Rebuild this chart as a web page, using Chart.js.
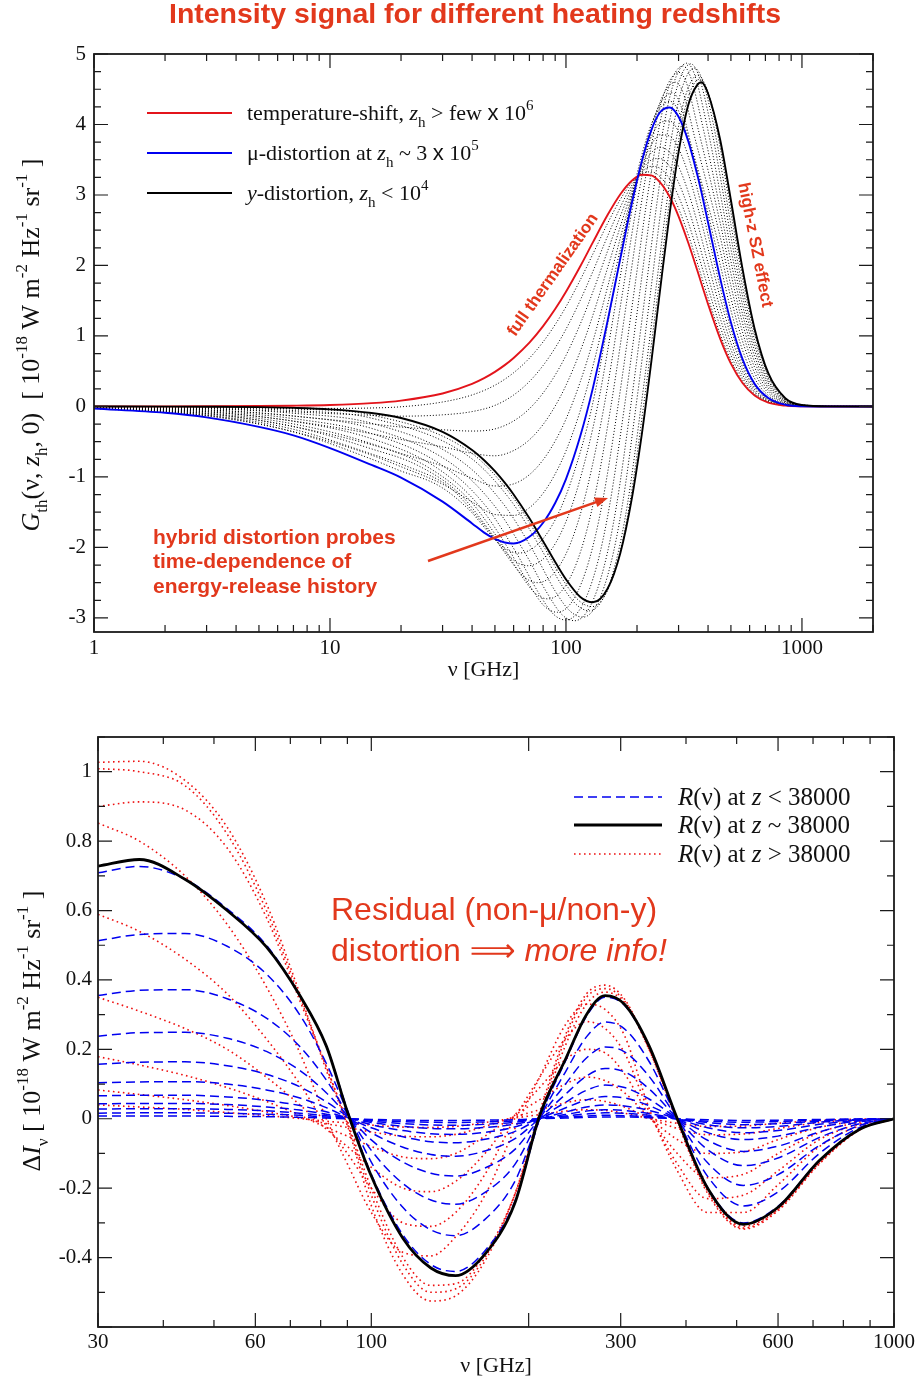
<!DOCTYPE html>
<html lang="en">
<head>
<meta charset="UTF-8">
<title>Intensity signal for different heating redshifts</title>
<script src="https://cdn.jsdelivr.net/npm/chart.js"></script>
<style>
  body { margin: 0; background: #fff; }
  .panel { position: absolute; left: 0; width: 920px; }
</style>
</head>
<body>
<div class="panel" style="top:0;height:690px"><canvas id="topChart" width="920" height="690"></canvas></div>
<div class="panel" style="top:690px;height:694px"><canvas id="bottomChart" width="920" height="694"></canvas></div>
<script>
// ---------- top panel: G_th(nu, z_h, 0) ----------
const topNu = [1, 2, 3, 5, 7, 10, 15, 20, 30, 40, 45, 50, 55, 60, 70, 80, 90, 100, 115, 130, 150, 170, 190, 210, 230, 250, 275, 300, 330, 360, 375, 400, 450, 500, 560, 630, 720, 850, 1000, 1300, 2000];
const tempShift = [0.0002, 0.0008, 0.0019, 0.0052, 0.0103, 0.0209, 0.0468, 0.0829, 0.184, 0.321, 0.402, 0.491, 0.586, 0.688, 0.905, 1.139, 1.381, 1.627, 1.989, 2.327, 2.715, 3.010, 3.202, 3.288, 3.277, 3.182, 2.974, 2.697, 2.318, 1.931, 1.744, 1.452, 0.963, 0.608, 0.333, 0.155, 0.054, 0.011, 0.0015, 0, 0];
const muDist = [-0.03, -0.09, -0.155, -0.29, -0.41, -0.59, -0.83, -1.01, -1.35, -1.66, -1.79, -1.88, -1.93, -1.945, -1.85, -1.65, -1.37, -1.03, -0.42, 0.26, 1.21, 2.10, 2.88, 3.49, 3.92, 4.17, 4.24, 4.11, 3.76, 3.29, 3.04, 2.61, 1.82, 1.19, 0.67, 0.32, 0.12, 0.024, 0.003, 0, 0];
const yDist = [0, -0.002, -0.004, -0.010, -0.021, -0.042, -0.093, -0.164, -0.360, -0.617, -0.763, -0.919, -1.082, -1.249, -1.587, -1.913, -2.207, -2.454, -2.703, -2.779, -2.587, -2.078, -1.311, -0.374, 0.637, 1.630, 2.737, 3.607, 4.281, 4.562, 4.60, 4.440, 3.787, 2.925, 1.951, 1.103, 0.471, 0.117, 0.020, 0.0004, 0];

// dotted curves between y and mu (hybrid)
const hybridNu = [
  [1, 3, 7, 15, 39.7, 59.5, 79.4, 99.2, 114.1, 129, 148.4, 167.7, 187.0, 213, 245.9, 270.9, 295.9, 325.9, 368, 395.6, 445.2, 500, 560, 630, 720, 850, 1000, 2000],
  [1, 3, 7, 15, 38.8, 58.2, 77.5, 96.9, 111.5, 126, 144.9, 163.8, 182.6, 208, 240.6, 265.3, 290.2, 320.1, 362, 389.2, 437.9, 500, 560, 630, 720, 850, 1000, 2000],
  [1, 3, 7, 15, 36.3, 54.5, 72.6, 90.8, 104.4, 118, 136.4, 154.7, 173.1, 198, 230.0, 254.3, 278.8, 308.4, 350, 376.3, 423.4, 500, 560, 630, 720, 850, 1000, 2000],
  [1, 3, 7, 15, 33.5, 50.3, 67.1, 83.9, 96.4, 109, 126.9, 145.0, 163.2, 188, 219.3, 243.3, 267.4, 296.7, 338, 363.4, 408.9, 500, 560, 630, 720, 850, 1000, 2000],
  [1, 3, 7, 15, 30.8, 46.2, 61.5, 76.9, 88.5, 100, 117.3, 134.9, 152.6, 177, 207.6, 231.2, 255.0, 283.9, 325, 349.5, 393.2, 500, 560, 630, 720, 850, 1000, 2000],
  [1, 3, 7, 15, 28.3, 42.5, 56.6, 70.8, 81.4, 92, 108.5, 125.3, 142.4, 166, 196.1, 219.4, 243.0, 271.9, 313, 336.6, 378.6, 450, 500, 560, 630, 720, 850, 1000, 2000],
  [1, 3, 7, 15, 25.8, 38.8, 51.7, 64.6, 74.3, 84, 99.7, 115.8, 132.2, 155, 184.5, 207.5, 231.0, 259.7, 301, 323.6, 364.1, 450, 500, 560, 630, 720, 850, 1000, 2000],
  [1, 3, 7, 15, 23.4, 35.1, 46.8, 58.5, 67.2, 76, 91.0, 106.6, 122.6, 145, 174.1, 196.9, 220.4, 249.3, 291, 312.9, 352.0, 450, 500, 560, 630, 720, 850, 1000, 2000],
  [1, 3, 7, 15, 21.2, 31.8, 42.5, 53.1, 61.0, 69, 83.4, 98.4, 114.0, 136, 164.7, 187.4, 210.8, 239.8, 282, 303.2, 341.1, 450, 500, 560, 630, 720, 850, 1000, 2000],
  [1, 3, 7, 15, 19.4, 29.1, 38.8, 48.5, 55.7, 63, 77.0, 91.7, 107.1, 129, 157.5, 180.2, 203.8, 233.1, 276, 296.8, 333.9, 450, 500, 560, 630, 720, 850, 1000, 2000]
];
const hybridG = [
  [-0.001, -0.010, -0.036, -0.122, -0.659, -1.287, -1.953, -2.508, -2.762, -2.84, -2.644, -2.124, -1.340, 0, 1.651, 2.773, 3.654, 4.337, 4.64, 4.498, 3.837, 2.856, 1.900, 1.072, 0.457, 0.113, 0.019, 0],
  [-0.003, -0.019, -0.059, -0.166, -0.712, -1.329, -1.990, -2.56, -2.821, -2.90, -2.700, -2.168, -1.368, 0, 1.673, 2.809, 3.702, 4.393, 4.70, 4.556, 3.886, 2.752, 1.823, 1.025, 0.436, 0.108, 0.018, 0],
  [-0.006, -0.033, -0.097, -0.238, -0.785, -1.390, -2.048, -2.64, -2.908, -2.99, -2.783, -2.236, -1.411, 0, 1.708, 2.868, 3.780, 4.487, 4.80, 4.653, 3.969, 2.578, 1.695, 0.946, 0.401, 0.098, 0.017, 0],
  [-0.009, -0.048, -0.135, -0.311, -0.835, -1.429, -2.080, -2.667, -2.957, -3.04, -2.830, -2.273, -1.434, 0, 1.730, 2.904, 3.827, 4.543, 4.86, 4.711, 4.018, 2.405, 1.567, 0.868, 0.366, 0.089, 0.015, 0],
  [-0.012, -0.062, -0.173, -0.384, -0.866, -1.432, -2.073, -2.656, -2.947, -3.03, -2.821, -2.266, -1.429, 0, 1.733, 2.910, 3.835, 4.552, 4.87, 4.721, 4.027, 2.231, 1.439, 0.790, 0.331, 0.080, 0.013, 0],
  [-0.015, -0.077, -0.211, -0.457, -0.869, -1.394, -2.002, -2.560, -2.840, -2.92, -2.718, -2.183, -1.377, 0, 1.719, 2.886, 3.804, 4.515, 4.83, 4.682, 3.994, 2.804, 2.058, 1.311, 0.712, 0.296, 0.071, 0.012, 0],
  [-0.018, -0.092, -0.248, -0.529, -0.855, -1.319, -1.882, -2.396, -2.655, -2.73, -2.541, -2.041, -1.288, 0, 1.687, 2.833, 3.733, 4.430, 4.74, 4.595, 3.919, 2.607, 1.884, 1.182, 0.633, 0.260, 0.061, 0.010, 0],
  [-0.021, -0.106, -0.286, -0.602, -0.832, -1.226, -1.735, -2.199, -2.432, -2.50, -2.327, -1.869, -1.179, 0, 1.637, 2.749, 3.623, 4.300, 4.60, 4.460, 3.804, 2.410, 1.711, 1.054, 0.555, 0.225, 0.052, 0.008, 0],
  [-0.024, -0.121, -0.324, -0.675, -0.85, -1.136, -1.582, -1.992, -2.198, -2.26, -2.104, -1.690, -1.066, 0, 1.584, 2.659, 3.505, 4.159, 4.45, 4.314, 3.679, 2.213, 1.537, 0.926, 0.477, 0.190, 0.043, 0.006, 0],
  [-0.027, -0.135, -0.362, -0.747, -0.90, -1.13, -1.464, -1.838, -2.023, -2.08, -1.936, -1.555, -0.981, 0, 1.541, 2.588, 3.410, 4.047, 4.33, 4.22, 3.75, 2.017, 1.364, 0.798, 0.398, 0.155, 0.033, 0.005, 0]
];

// dotted curves between mu and temperature shift (thermalization)
const mixNu = [1, 3, 5, 10, 15, 20, 30, 40, 50, 60, 70, 80, 90, 100, 115, 130, 150, 170, 190, 210, 230, 250, 275, 300, 330, 360, 400, 450, 500, 560, 630, 720, 850, 1000, 2000];
const mixG = [
  [-0.026, -0.127, -0.246, -0.498, -0.690, -0.855, -1.103, -1.354, -1.533, -1.546, -1.437, -1.232, -0.957, -0.631, -0.059, 0.570, 1.436, 2.237, 2.928, 3.460, 3.824, 4.022, 4.050, 3.898, 3.544, 3.086, 2.436, 1.691, 1.103, 0.619, 0.295, 0.110, 0.022, 0.003, 0],
  [-0.020, -0.101, -0.196, -0.395, -0.543, -0.667, -0.846, -1.019, -1.128, -1.099, -0.968, -0.758, -0.490, -0.180, 0.351, 0.921, 1.692, 2.391, 2.983, 3.425, 3.714, 3.854, 3.835, 3.658, 3.299, 2.855, 2.239, 1.546, 1.004, 0.562, 0.267, 0.099, 0.020, 0.0025, 0],
  [-0.015, -0.074, -0.143, -0.285, -0.387, -0.469, -0.573, -0.665, -0.700, -0.626, -0.473, -0.256, 0.006, 0.299, 0.785, 1.294, 1.963, 2.555, 3.041, 3.389, 3.599, 3.676, 3.607, 3.404, 3.039, 2.611, 2.031, 1.392, 0.899, 0.502, 0.238, 0.087, 0.018, 0.002, 0],
  [-0.010, -0.050, -0.095, -0.187, -0.248, -0.292, -0.331, -0.349, -0.319, -0.206, -0.032, 0.191, 0.446, 0.724, 1.170, 1.624, 2.203, 2.701, 3.093, 3.357, 3.496, 3.518, 3.404, 3.177, 2.808, 2.393, 1.846, 1.254, 0.806, 0.448, 0.211, 0.076, 0.015, 0.002, 0],
  [-0.006, -0.028, -0.054, -0.101, -0.126, -0.138, -0.119, -0.073, 0.015, 0.162, 0.354, 0.581, 0.831, 1.096, 1.507, 1.914, 2.414, 2.828, 3.138, 3.328, 3.406, 3.380, 3.227, 2.980, 2.606, 2.203, 1.684, 1.134, 0.724, 0.400, 0.188, 0.067, 0.014, 0.0018, 0],
  [-0.002, -0.010, -0.019, -0.028, -0.022, -0.005, 0.063, 0.163, 0.301, 0.478, 0.685, 0.916, 1.161, 1.414, 1.796, 2.162, 2.595, 2.937, 3.176, 3.304, 3.328, 3.261, 3.075, 2.810, 2.433, 2.040, 1.545, 1.032, 0.655, 0.360, 0.168, 0.059, 0.012, 0.0016, 0]
];

const topXLabels = [1, 10, 100, 1000];
const topYLabels = [-3, -2, -1, 0, 1, 2, 3, 4, 5];

// ---------- bottom panel: residual distortion R(nu) ----------
const botNu = [30, 36, 44, 53, 63, 73, 82, 90, 100, 115, 130, 145, 165, 188, 210, 235, 258, 280, 305, 340, 385, 440, 515, 600, 720, 860, 1000];
const residMid = [0.728, 0.747, 0.69, 0.60, 0.495, 0.355, 0.21, 0.02, -0.165, -0.345, -0.43, -0.452, -0.39, -0.245, 0.01, 0.17, 0.30, 0.355, 0.33, 0.21, 0.0, -0.20, -0.304, -0.255, -0.12, -0.03, 0];
const residLow = [
  [0.709, 0.727, 0.69, 0.605, 0.50, 0.355, 0.21, 0.025, -0.16, -0.335, -0.42, -0.44, -0.38, -0.24, 0.0, 0.165, 0.295, 0.35, 0.327, 0.208, 0.0, -0.198, -0.300, -0.252, -0.12, -0.03, 0],
  [0.513, 0.531, 0.534, 0.497, 0.417, 0.299, 0.160, 0.021, -0.125, -0.256, -0.320, -0.337, -0.290, -0.182, 0, 0.134, 0.236, 0.279, 0.259, 0.165, 0, -0.166, -0.251, -0.211, -0.100, -0.025, 0],
  [0.355, 0.370, 0.372, 0.346, 0.290, 0.208, 0.112, 0.015, -0.091, -0.187, -0.234, -0.246, -0.212, -0.133, 0, 0.099, 0.175, 0.207, 0.193, 0.122, 0, -0.127, -0.192, -0.161, -0.077, -0.019, 0],
  [0.238, 0.248, 0.249, 0.232, 0.194, 0.139, 0.075, 0.010, -0.061, -0.125, -0.157, -0.165, -0.142, -0.089, 0, 0.070, 0.123, 0.145, 0.135, 0.086, 0, -0.089, -0.135, -0.113, -0.054, -0.014, 0],
  [0.157, 0.163, 0.164, 0.153, 0.128, 0.092, 0.049, 0.007, -0.040, -0.082, -0.103, -0.108, -0.093, -0.058, 0, 0.047, 0.082, 0.097, 0.090, 0.057, 0, -0.062, -0.094, -0.079, -0.038, -0.009, 0],
  [0.104, 0.106, 0.107, 0.100, 0.083, 0.060, 0.032, 0.004, -0.026, -0.052, -0.066, -0.069, -0.059, -0.037, 0, 0.031, 0.054, 0.064, 0.060, 0.038, 0, -0.040, -0.060, -0.050, -0.024, -0.006, 0],
  [0.066, 0.068, 0.068, 0.063, 0.053, 0.038, 0.020, 0.003, -0.017, -0.034, -0.043, -0.045, -0.039, -0.024, 0, 0.019, 0.034, 0.040, 0.037, 0.024, 0, -0.026, -0.040, -0.034, -0.016, -0.004, 0],
  [0.043, 0.044, 0.044, 0.041, 0.034, 0.025, 0.013, 0.002, -0.011, -0.022, -0.028, -0.029, -0.025, -0.016, 0, 0.012, 0.022, 0.026, 0.024, 0.015, 0, -0.017, -0.026, -0.022, -0.010, -0.003, 0],
  [0.028, 0.029, 0.029, 0.027, 0.023, 0.016, 0.009, 0.001, -0.007, -0.014, -0.018, -0.019, -0.016, -0.010, 0, 0.008, 0.014, 0.017, 0.016, 0.010, 0, -0.011, -0.017, -0.014, -0.007, -0.002, 0],
  [0.016, 0.017, 0.017, 0.016, 0.013, 0.010, 0.005, 0.001, -0.004, -0.008, -0.010, -0.011, -0.009, -0.006, 0, 0.005, 0.008, 0.010, 0.009, 0.006, 0, -0.007, -0.010, -0.008, -0.004, -0.001, 0],
  [0.008, 0.008, 0.008, 0.007, 0.006, 0.004, 0.002, 0, -0.002, -0.004, -0.005, -0.005, -0.004, -0.003, 0, 0.002, 0.004, 0.005, 0.005, 0.003, 0, -0.003, -0.005, -0.004, -0.002, -0.001, 0]
];
const residHigh = [
  [1.027, 1.03, 0.975, 0.84, 0.62, 0.36, 0.14, -0.02, -0.25, -0.45, -0.525, -0.51, -0.41, -0.22, 0.02, 0.24, 0.36, 0.385, 0.345, 0.20, -0.01, -0.215, -0.318, -0.265, -0.13, -0.032, 0],
  [1.009, 1.00, 0.96, 0.82, 0.60, 0.35, 0.15, -0.015, -0.22, -0.42, -0.50, -0.49, -0.40, -0.22, 0.01, 0.23, 0.35, 0.375, 0.34, 0.20, -0.005, -0.21, -0.315, -0.262, -0.128, -0.031, 0],
  [0.90, 0.913, 0.89, 0.78, 0.58, 0.34, 0.15, -0.01, -0.20, -0.40, -0.48, -0.475, -0.39, -0.22, 0.0, 0.21, 0.33, 0.365, 0.335, 0.20, 0, -0.205, -0.31, -0.26, -0.127, -0.031, 0],
  [0.852, 0.80, 0.70, 0.56, 0.38, 0.19, 0.0, -0.13, -0.27, -0.385, -0.395, -0.34, -0.22, -0.03, 0.12, 0.27, 0.33, 0.315, 0.24, 0.03, -0.15, -0.27, -0.27, -0.19, -0.08, -0.02, 0],
  [0.589, 0.54, 0.46, 0.36, 0.23, 0.10, -0.02, -0.10, -0.20, -0.30, -0.31, -0.27, -0.16, 0.0, 0.12, 0.23, 0.28, 0.26, 0.19, 0.02, -0.13, -0.23, -0.22, -0.15, -0.06, -0.015, 0],
  [0.350, 0.31, 0.26, 0.20, 0.12, 0.04, -0.03, -0.08, -0.14, -0.20, -0.21, -0.18, -0.10, 0.01, 0.09, 0.17, 0.20, 0.19, 0.13, 0.01, -0.10, -0.17, -0.16, -0.10, -0.04, -0.01, 0],
  [0.179, 0.155, 0.125, 0.09, 0.05, 0.01, -0.025, -0.05, -0.08, -0.11, -0.115, -0.10, -0.05, 0.01, 0.055, 0.10, 0.12, 0.11, 0.075, 0.005, -0.06, -0.10, -0.095, -0.06, -0.025, -0.006, 0],
  [0.083, 0.07, 0.055, 0.038, 0.02, 0.003, -0.014, -0.025, -0.038, -0.05, -0.052, -0.045, -0.022, 0.005, 0.026, 0.046, 0.055, 0.05, 0.034, 0.002, -0.028, -0.046, -0.044, -0.028, -0.011, -0.003, 0],
  [0.040, 0.034, 0.027, 0.018, 0.009, 0.001, -0.007, -0.012, -0.018, -0.024, -0.025, -0.022, -0.011, 0.002, 0.012, 0.022, 0.026, 0.024, 0.016, 0.001, -0.013, -0.022, -0.021, -0.013, -0.005, -0.001, 0]
];

const botXLabels = [30, 60, 100, 300, 600, 1000];
const botYLabels = [-0.4, -0.2, 0, 0.2, 0.4, 0.6, 0.8, 1];

// ---------- styling ----------
const RED = '#e3141b';
const BLUE = '#0000f0';
const NOTE = '#e2381c';
const SERIF = "'Liberation Serif', 'Times New Roman', serif";
const SANS = "'Liberation Sans', Arial, 'DejaVu Sans', sans-serif";

function series(nu, vals, color, width, dash) {
  return {
    data: nu.map((v, i) => ({ x: v, y: vals[i] })),
    borderColor: color, borderWidth: width, borderDash: dash || [],
    pointRadius: 0, fill: false, cubicInterpolationMode: 'monotone'
  };
}

// rich text: [text, flags]  flags: i italic, _ subscript, ^ superscript, s sans
function richText(ctx, segs, x, y, size, align) {
  const parts = segs.map(([t, f = '']) => {
    const small = f.includes('_') || f.includes('^');
    const fs = small ? Math.round(size * 0.66) : size;
    const font = (f.includes('i') ? 'italic ' : '') + fs + 'px ' + (f.includes('s') ? SANS : SERIF);
    ctx.font = font;
    return { t, font, w: ctx.measureText(t).width, dy: f.includes('_') ? size * 0.32 : f.includes('^') ? -size * 0.45 : 0 };
  });
  const total = parts.reduce((s, p) => s + p.w, 0);
  let cx = align === 'center' ? x - total / 2 : x;
  ctx.textAlign = 'left';
  ctx.textBaseline = 'alphabetic';
  parts.forEach(p => { ctx.font = p.font; ctx.fillText(p.t, cx, y + p.dy); cx += p.w; });
}

function fittedText(ctx, text, cx, cy, width) {
  const w = ctx.measureText(text).width;
  ctx.save();
  ctx.translate(cx, cy);
  ctx.scale(width / w, 1);
  ctx.textAlign = 'center';
  ctx.fillText(text, 0, 0);
  ctx.restore();
}

function makeFrame(id, majorX, majorY) {
  return {
    id: id,
    afterDatasetsDraw(chart) {
      const { ctx, chartArea: a, scales: { x, y } } = chart;
      ctx.save();
      ctx.setLineDash([]);
      ctx.strokeStyle = '#1a1a1a';
      ctx.lineWidth = 1.2;
      ctx.beginPath();
      x.ticks.forEach(t => {
        const p = x.getPixelForValue(t.value);
        const len = majorX(t.value) ? 14 : 7;
        ctx.moveTo(p, a.bottom); ctx.lineTo(p, a.bottom - len);
        ctx.moveTo(p, a.top); ctx.lineTo(p, a.top + len);
      });
      y.ticks.forEach(t => {
        const p = y.getPixelForValue(t.value);
        const len = majorY(t.value) ? 14 : 7;
        ctx.moveTo(a.left, p); ctx.lineTo(a.left + len, p);
        ctx.moveTo(a.right, p); ctx.lineTo(a.right - len, p);
      });
      ctx.stroke();
      ctx.lineWidth = 1.8;
      ctx.strokeRect(a.left, a.top, a.right - a.left, a.bottom - a.top);
      ctx.restore();
    }
  };
}

const tickFont = { family: SERIF, size: 21 };
const axisFont = { family: SERIF, size: 22 };
const noGrid = { display: false, drawTicks: false, tickLength: 0 };

// ---------- top chart ----------
const topXTicks = [];
[1, 10, 100].forEach(d => { for (let k = 1; k < 10; k++) topXTicks.push(d * k); });
topXTicks.push(1000, 2000);
const topYTicks = [];
for (let i = 0; i <= 32; i++) topYTicks.push(-3 + i * 0.25);

const topSets = [
  series(topNu, yDist, '#000', 1.9),
  series(topNu, muDist, BLUE, 1.9),
  series(topNu, tempShift, RED, 1.9)
];
hybridNu.forEach((nu, i) => topSets.push(series(nu, hybridG[i], '#000', 1, [1, 2])));
mixG.forEach(vals => topSets.push(series(mixNu, vals, '#000', 1, [1, 2])));

const topDecor = {
  id: 'topDecor',
  afterDraw(chart) {
    const ctx = chart.ctx;
    ctx.save();
    // title
    ctx.fillStyle = NOTE;
    ctx.font = 'bold 28px ' + SANS;
    ctx.textBaseline = 'middle';
    fittedText(ctx, 'Intensity signal for different heating redshifts', 475, 15, 612);

    // legend
    const leg = [
      [RED, 113, [['temperature-shift, '], ['z', 'i'], ['h', '_'], [' > few '], ['x', 's'], [' 10'], ['6', '^']]],
      [BLUE, 153, [['μ-distortion at '], ['z', 'i'], ['h', '_'], [' ~ 3 '], ['x', 's'], [' 10'], ['5', '^']]],
      ['#000', 193, [['y', 'i'], ['-distortion, '], ['z', 'i'], ['h', '_'], [' < 10'], ['4', '^']]]
    ];
    leg.forEach(([c, y, segs]) => {
      ctx.strokeStyle = c; ctx.lineWidth = 2; ctx.setLineDash([]);
      ctx.beginPath(); ctx.moveTo(147, y); ctx.lineTo(232, y); ctx.stroke();
      ctx.fillStyle = '#111';
      richText(ctx, segs, 247, y + 7, 22, 'left');
    });

    // y axis title
    ctx.save();
    ctx.translate(39, 345);
    ctx.rotate(-Math.PI / 2);
    ctx.fillStyle = '#111';
    richText(ctx, [['G', 'i'], ['th', '_'], ['(ν, '], ['z', 'i'], ['h', '_'], [', 0)  [ 10'], ['-18', '^'], [' W m'], ['-2', '^'], [' Hz'], ['-1', '^'], [' sr'], ['-1', '^'], [' ]']], 0, 0, 26, 'center');
    ctx.restore();

    // annotations
    ctx.fillStyle = NOTE;
    ctx.font = 'bold 21px ' + SANS;
    ctx.textAlign = 'left'; ctx.textBaseline = 'middle';
    ['hybrid distortion probes', 'time-dependence of', 'energy-release history'].forEach((s, i) => ctx.fillText(s, 153, 538 + i * 24.5));

    ctx.font = 'bold 17px ' + SANS;
    ctx.textAlign = 'center';
    ctx.save(); ctx.translate(553, 275); ctx.rotate(-55 * Math.PI / 180); ctx.fillText('full thermalization', 0, 0); ctx.restore();
    ctx.save(); ctx.translate(755, 245); ctx.rotate(79 * Math.PI / 180); ctx.fillText('high-z SZ effect', 0, 0); ctx.restore();

    // arrow
    const x0 = 428, y0 = 561, x1 = 608, y1 = 498;
    const ang = Math.atan2(y1 - y0, x1 - x0);
    ctx.strokeStyle = NOTE; ctx.lineWidth = 2.5;
    ctx.beginPath(); ctx.moveTo(x0, y0); ctx.lineTo(x1 - 8 * Math.cos(ang), y1 - 8 * Math.sin(ang)); ctx.stroke();
    ctx.beginPath();
    ctx.moveTo(x1, y1);
    ctx.lineTo(x1 - 13 * Math.cos(ang) + 5 * Math.sin(ang), y1 - 13 * Math.sin(ang) - 5 * Math.cos(ang));
    ctx.lineTo(x1 - 13 * Math.cos(ang) - 5 * Math.sin(ang), y1 - 13 * Math.sin(ang) + 5 * Math.cos(ang));
    ctx.closePath(); ctx.fill();
    ctx.restore();
  }
};

new Chart(document.getElementById('topChart'), {
  type: 'line',
  data: { datasets: topSets },
  options: {
    responsive: false, animation: false, events: [],
    layout: { padding: { top: 54, right: 47, left: 0, bottom: 0 } },
    plugins: { legend: { display: false }, tooltip: { enabled: false } },
    scales: {
      x: {
        type: 'logarithmic', min: 1, max: 2000,
        afterBuildTicks: s => { s.ticks = topXTicks.map(v => ({ value: v })); },
        afterFit: s => { s.height = 58; },
        grid: noGrid, border: { display: false },
        ticks: { autoSkip: false, maxRotation: 0, minRotation: 0, padding: 4, font: tickFont, color: '#111',
          callback: v => topXLabels.includes(v) ? String(v) : '' },
        title: { display: true, text: 'ν [GHz]', font: axisFont, color: '#111', padding: { top: 0, bottom: 7 } }
      },
      y: {
        type: 'linear', min: -3.2, max: 5,
        afterBuildTicks: s => { s.ticks = topYTicks.map(v => ({ value: v })); },
        afterFit: s => { s.width = 94; },
        grid: noGrid, border: { display: false },
        ticks: { autoSkip: false, padding: 8, font: tickFont, color: '#111',
          callback: v => topYLabels.includes(v) ? String(v) : '' }
      }
    }
  },
  plugins: [makeFrame('topFrame', v => topXLabels.includes(v), v => Number.isInteger(v)), topDecor]
});

// ---------- bottom chart ----------
const botXTicks = [30, 40, 50, 60, 70, 80, 90, 100, 200, 300, 400, 500, 600, 700, 800, 900, 1000];
const botXMajor = [30, 60, 100, 200, 300, 600, 1000];
const botYTicks = [];
for (let i = 0; i <= 17; i++) botYTicks.push(Math.round((-0.6 + i * 0.1) * 10) / 10);

const botSets = [series(botNu, residMid, '#000', 2.8)];
residLow.forEach(vals => botSets.push(series(botNu, vals, BLUE, 1.5, [9, 5])));
residHigh.forEach(vals => botSets.push(series(botNu, vals, '#ee1010', 1.6, [1.6, 3.4])));

const botDecor = {
  id: 'botDecor',
  afterDraw(chart) {
    const ctx = chart.ctx;
    ctx.save();
    // legend
    const leg = [
      [BLUE, 107, 1.5, [9, 5], '<'],
      ['#000', 135, 3, [], '~'],
      ['#ee1010', 164, 1.6, [1.6, 3.4], '>']
    ];
    leg.forEach(([c, y, w, dash, op]) => {
      ctx.strokeStyle = c; ctx.lineWidth = w; ctx.setLineDash(dash);
      ctx.beginPath(); ctx.moveTo(574, y); ctx.lineTo(662, y); ctx.stroke();
      ctx.setLineDash([]);
      ctx.fillStyle = '#111';
      richText(ctx, [['R', 'i'], ['(ν) at '], ['z', 'i'], [' ' + op + ' 38000']], 678, y + 8, 25, 'left');
    });

    // y axis title
    ctx.save();
    ctx.translate(40, 341);
    ctx.rotate(-Math.PI / 2);
    ctx.fillStyle = '#111';
    richText(ctx, [['Δ'], ['I', 'i'], ['ν', '_'], [' [ 10'], ['-18', '^'], [' W m'], ['-2', '^'], [' Hz'], ['-1', '^'], [' sr'], ['-1', '^'], [' ]']], 0, 0, 26, 'center');
    ctx.restore();

    // annotation
    ctx.fillStyle = NOTE;
    ctx.textAlign = 'left'; ctx.textBaseline = 'middle';
    ctx.font = '32px ' + SANS;
    ctx.fillText('Residual (non-μ/non-y)', 331, 221);
    const first = 'distortion ⟹ ';
    ctx.fillText(first, 331, 262);
    const w = ctx.measureText(first).width;
    ctx.font = 'italic 32px ' + SANS;
    ctx.fillText('more info!', 331 + w, 262);
    ctx.restore();
  }
};

new Chart(document.getElementById('bottomChart'), {
  type: 'line',
  data: { datasets: botSets },
  options: {
    responsive: false, animation: false, events: [],
    layout: { padding: { top: 47, right: 26, left: 0, bottom: 0 } },
    plugins: { legend: { display: false }, tooltip: { enabled: false } },
    scales: {
      x: {
        type: 'logarithmic', min: 30, max: 1000,
        afterBuildTicks: s => { s.ticks = botXTicks.map(v => ({ value: v })); },
        afterFit: s => { s.height = 57; },
        grid: noGrid, border: { display: false },
        ticks: { autoSkip: false, maxRotation: 0, minRotation: 0, padding: 3, font: tickFont, color: '#111',
          callback: v => botXLabels.includes(v) ? String(v) : '' },
        title: { display: true, text: 'ν [GHz]', font: axisFont, color: '#111', padding: { top: 0, bottom: 5 } }
      },
      y: {
        type: 'linear', min: -0.6, max: 1.1,
        afterBuildTicks: s => { s.ticks = botYTicks.map(v => ({ value: v })); },
        afterFit: s => { s.width = 98; },
        grid: noGrid, border: { display: false },
        ticks: { autoSkip: false, padding: 6, font: tickFont, color: '#111',
          callback: v => botYLabels.includes(v) ? String(v) : '' }
      }
    }
  },
  plugins: [makeFrame('botFrame', v => botXMajor.includes(v), v => Math.abs(v * 5 - Math.round(v * 5)) < 1e-6), botDecor]
});
</script>
</body>
</html>
